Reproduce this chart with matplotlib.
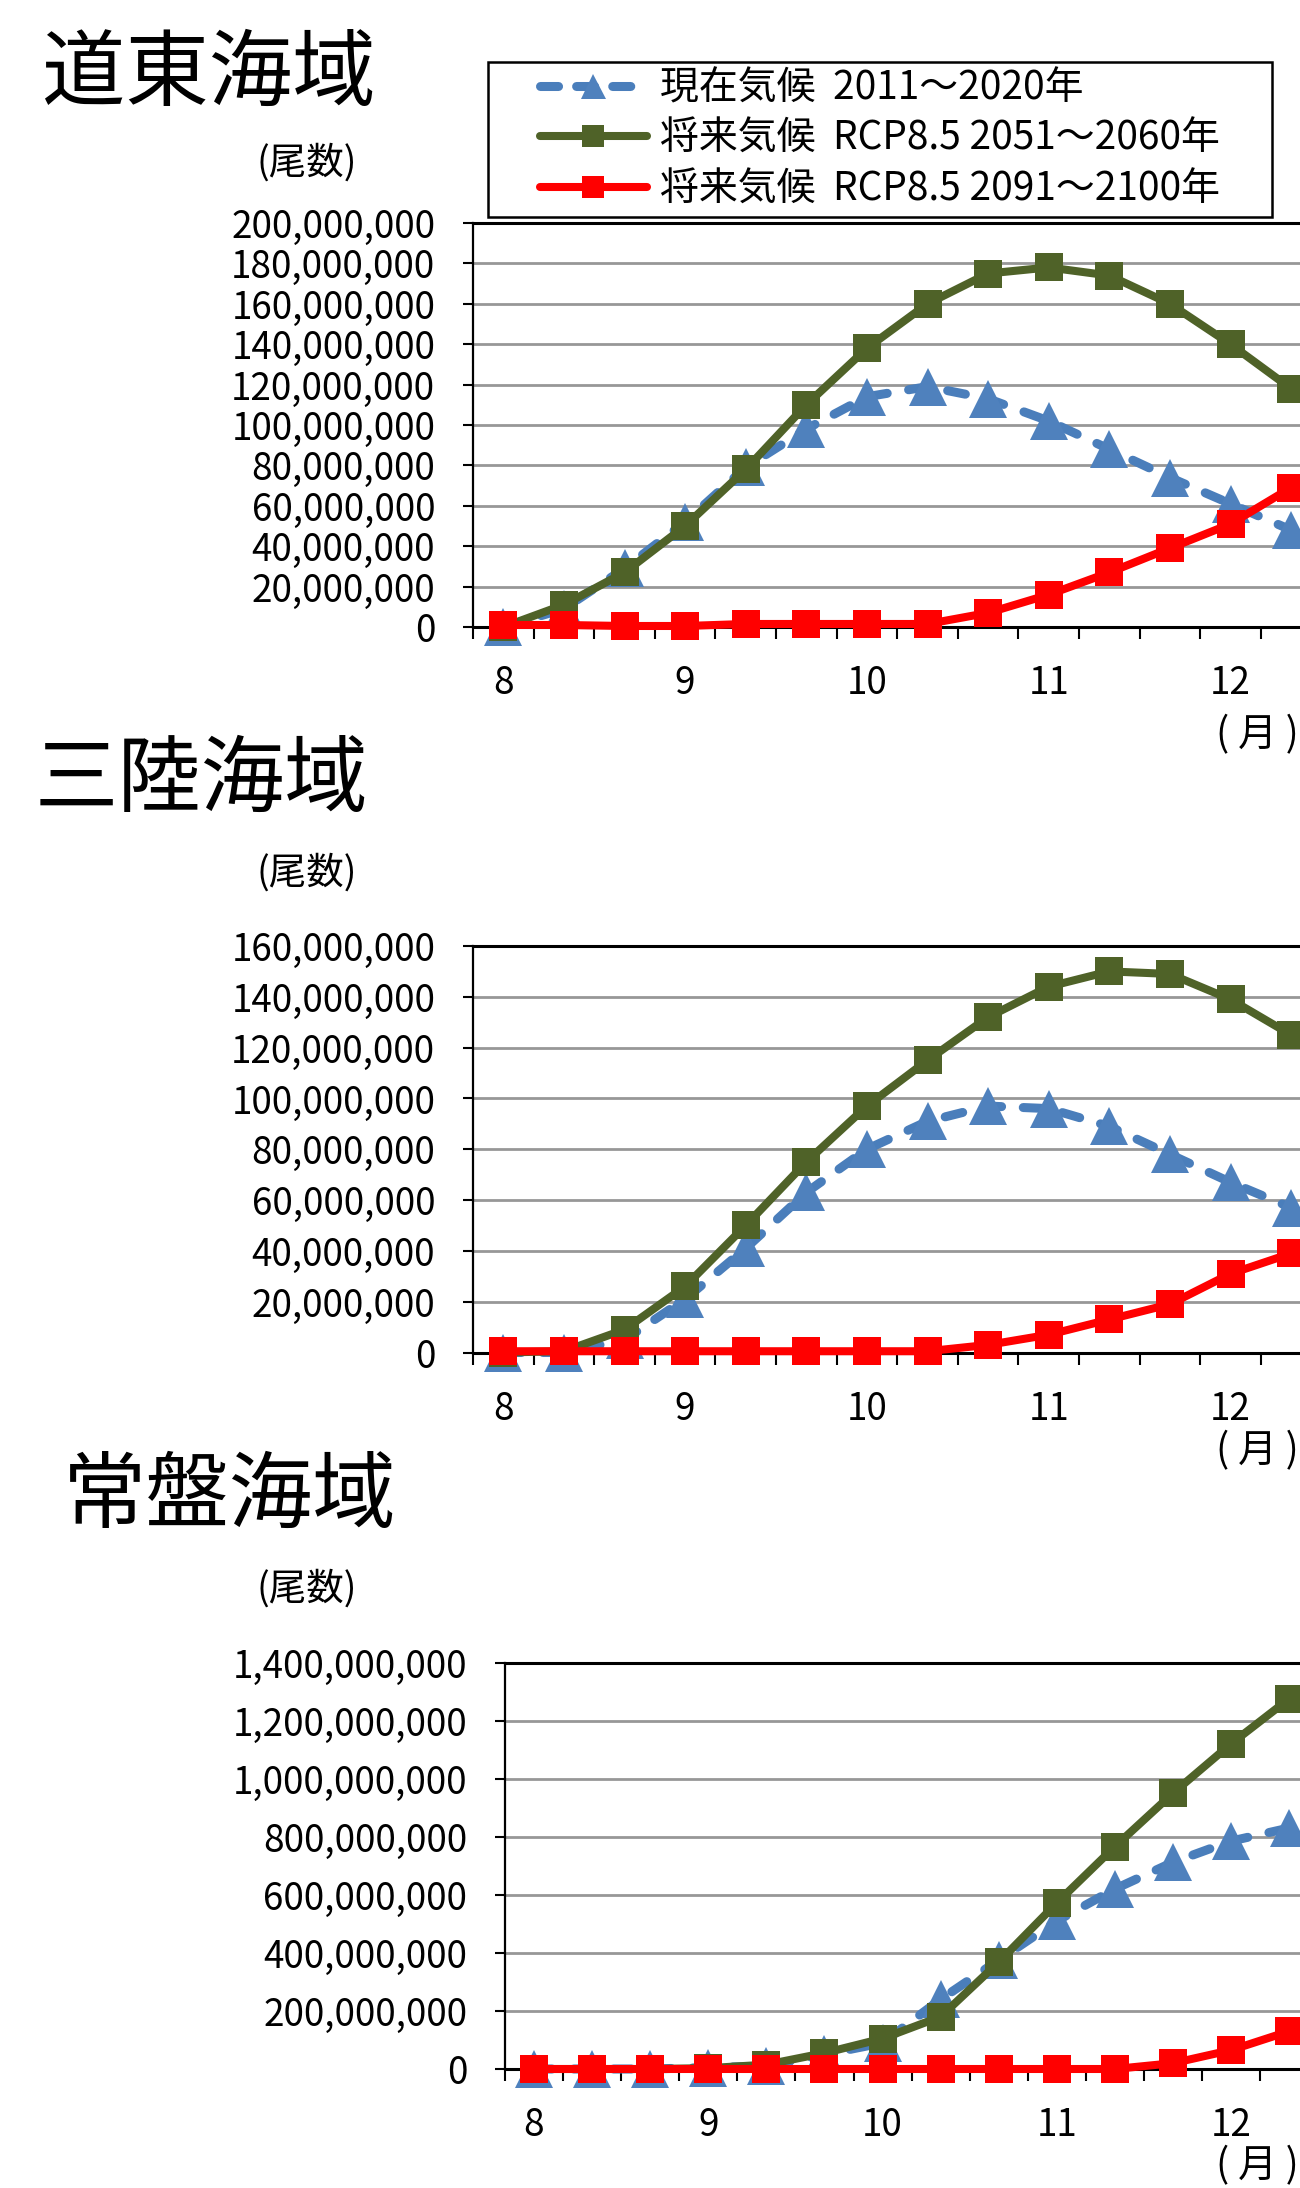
import numpy as np
import matplotlib
matplotlib.use('Agg')
import matplotlib.pyplot as plt
from matplotlib.lines import Line2D
from matplotlib.patches import Rectangle
from matplotlib.ticker import FuncFormatter, MultipleLocator, FixedLocator

plt.rcParams['font.family'] = ['Noto Sans CJK JP', 'DejaVu Sans']

# ── Data (尾数, in millions; three values per month from August) ─────────
doto_now    = [0, 9, 29, 52, 79, 98, 114, 119, 113, 102, 88, 74, 61, 48]
doto_2050s  = [0, 11, 27, 50, 78, 110, 138, 160, 175, 178, 174, 160, 140, 118]
doto_2090s  = [1, 1, 0.5, 0.5, 1.5, 1.5, 1.5, 1.5, 7, 16, 27, 39, 51, 69]

sanriku_now   = [0, 0, 5, 21, 41, 63, 80, 91, 97, 96, 89, 78, 67, 57]
sanriku_2050s = [0, 0.5, 9, 26, 50, 75, 97, 115, 132, 144, 150, 149, 139, 125]
sanriku_2090s = [0.5, 0.5, 0.5, 0.5, 0.5, 0.5, 0.5, 0.5, 3, 7, 13, 19, 31, 39]

joban_now   = [0, 0, 0, 5, 10, 50, 90, 240, 375, 510, 620, 712, 785, 830]
joban_2050s = [0, 0, 0, 3, 15, 55, 105, 180, 368, 572, 766, 950, 1120, 1275]
joban_2090s = [0, 0, 0, 0, 0, 0, 0, 0, 0, 0, 0, 20, 65, 130]

month_ticks = [8, 9, 10, 11, 12]
series_labels = ['現在気候  2011～2020年',
                 '将来気候  RCP8.5 2051～2060年',
                 '将来気候  RCP8.5 2091～2100年']

C_BLUE_LINE = '#4A7EBB'
C_BLUE = '#4F81BD'
C_GREEN = '#4F6228'
C_RED = '#FF0000'
C_GRID = '#979797'

W, H = 1300, 2188
fig = plt.figure(figsize=(W / 100, H / 100), dpi=100)


def fx(px):
    return px / W


def fy(py):
    return 1 - py / H


# title, title pos, unit label y, month label y, axes left/top/bottom (px),
# y max, y step, px per month
panels = [
    ('道東海域', (42, 75), 163, 735, (473, 223, 627), 200, 20, 181.8,
     (doto_now, doto_2050s, doto_2090s)),
    ('三陸海域', (35, 781), 873, 1451, (473, 946, 1352.5), 160, 20, 181.8,
     (sanriku_now, sanriku_2050s, sanriku_2090s)),
    ('常盤海域', (63, 1497), 1589, 2166, (505, 1662.5, 2069), 1400, 200, 174.25,
     (joban_now, joban_2050s, joban_2090s)),
]

for (title, (tx, ty), unit_y, month_y, (left, top, bottom),
     ymax, ystep, ppm, (now, mid, late)) in panels:
    ax = fig.add_axes([fx(left), fy(bottom), fx(W - left), (bottom - top) / H])
    x = 8 + np.arange(len(now)) / 3

    ax.plot(x, now, color=C_BLUE_LINE, lw=6.5, dashes=(2, 2.4),
            dash_capstyle='round', marker='^', ms=27, mfc=C_BLUE, mew=0,
            zorder=3, clip_on=False)
    ax.plot(x, mid, color=C_GREEN, lw=5.8, marker='s', ms=19.5, mew=0,
            zorder=4, clip_on=False)
    ax.plot(x, late, color=C_RED, lw=5.8, marker='s', ms=19.5, mew=0,
            zorder=5, clip_on=False)

    x0 = 8 - 1 / 6
    ax.set_xlim(x0, x0 + (W - left) / ppm)
    ax.set_ylim(0, ymax)

    ax.yaxis.set_major_locator(MultipleLocator(ystep))
    ax.yaxis.set_major_formatter(
        FuncFormatter(lambda v, _: f'{int(round(v * 1_000_000)):,}'))
    ax.tick_params(axis='y', direction='out', length=7.2, width=1.5,
                   labelsize=26.5, pad=20)

    ax.xaxis.set_major_locator(FixedLocator(month_ticks))
    ax.xaxis.set_minor_locator(FixedLocator(x0 + np.arange(15) / 3))
    ax.tick_params(axis='x', which='major', length=0, labelsize=26.5, pad=27)
    ax.tick_params(axis='x', which='minor', direction='out', length=8.6,
                   width=1.5)

    ax.grid(axis='y', color=C_GRID, lw=2.0, zorder=0)
    ax.set_axisbelow(True)
    ax.spines['right'].set_visible(False)
    ax.spines['left'].set_linewidth(1.6)
    ax.spines['top'].set_linewidth(2.2)
    ax.spines['bottom'].set_linewidth(2.2)

    fig.text(fx(tx), fy(ty), title, fontsize=60, ha='left', va='center')
    fig.text(fx(307), fy(unit_y), '(尾数)', fontsize=27, ha='center',
             va='center')
    fig.text(fx(1299), fy(month_y), '( 月 )', fontsize=28, ha='right',
             va='center')

# legend on the top panel
handles = [
    Line2D([], [], color=C_BLUE_LINE, lw=6.5, dashes=(2, 2),
           dash_capstyle='round', marker='^', ms=18, mfc=C_BLUE, mew=0),
    Line2D([], [], color=C_GREEN, lw=5.8, solid_capstyle='round',
           marker='s', ms=16.5, mew=0),
    Line2D([], [], color=C_RED, lw=5.8, solid_capstyle='round',
           marker='s', ms=16.5, mew=0),
]
fig.legend(handles, series_labels, loc='center left',
           bbox_to_anchor=(fx(540), fy(139)), frameon=False, borderpad=0,
           borderaxespad=0, fontsize=28, handlelength=107 / 39,
           handletextpad=13 / 39, labelspacing=0.27)
fig.add_artist(Rectangle((fx(488), fy(217)), fx(1272 - 488), (217 - 62) / H,
                         transform=fig.transFigure, fill=False,
                         edgecolor='black', lw=1.8))

fig.savefig('out.png', dpi=100)
